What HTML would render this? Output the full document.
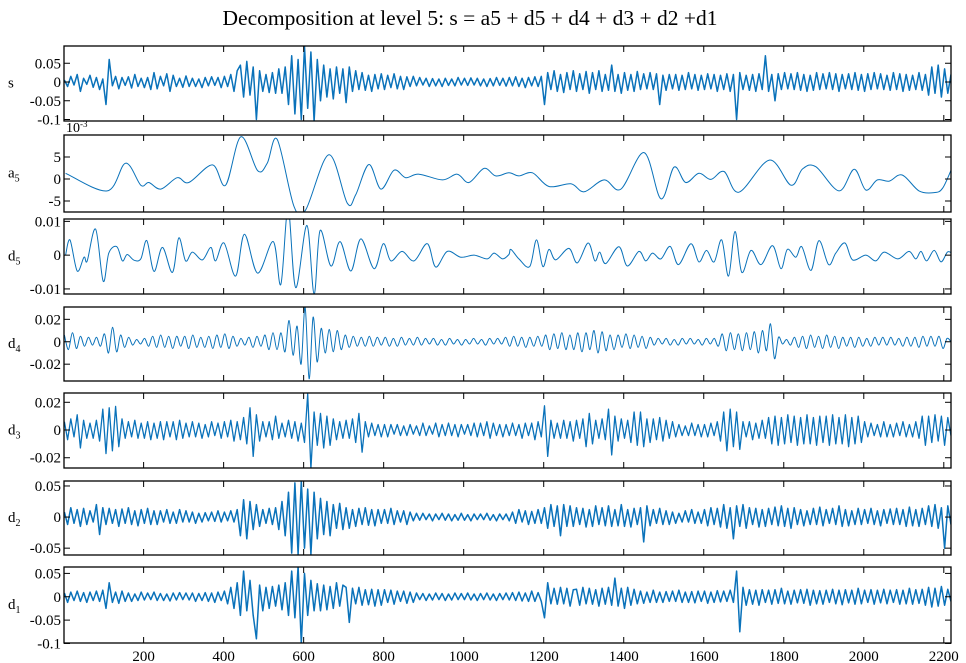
<!DOCTYPE html>
<html><head><meta charset="utf-8">
<style>
html,body{margin:0;padding:0;background:#fff;}
svg{display:block;font-family:"Liberation Serif",serif;}
</style></head>
<body>
<svg id="chart" width="966" height="663" viewBox="0 0 966 663">
<text x="470" y="25" text-anchor="middle" font-size="21.5">Decomposition at level 5: s = a5 + d5 + d4 + d3 + d2 +d1</text>
</svg>
<script>
// ---- data ----
const xTicks=[200,400,600,800,1000,1200,1400,1600,1800,2000,2200];
const a5X=[5,109,155,193,213,243,284,313,372,405,443,485,509,534,576,605,663,709,730,763,793,826,855,888,947,984,1013,1051,1080,1113,1138,1172,1213,1268,1301,1351,1393,1451,1493,1526,1555,1588,1618,1651,1688,1764,1818,1847,1880,1938,1976,2005,2034,2063,2096,2138,2176,2197,2220];
const a5Y=[1.3,-2.7,3.6,-1.4,-0.8,-2.3,0.3,-0.8,3.2,-1.4,9.6,1.9,3.6,9.0,-6.3,-7.0,5.5,-5.5,-3.6,3.3,-2.3,2.0,0.3,1.1,-0.2,1.1,-0.8,2.4,0.7,1.4,0.7,1.4,-1.7,-1.1,-2.9,-0.2,-2.3,6.0,-4.5,2.7,-0.8,1.3,-0.1,1.7,-3.0,4.3,-1.4,2.3,2.8,-2.7,2.2,-2.5,-0.2,-0.5,0.9,-2.7,-3.1,-2.1,2.4];
const d5X=[5,16,34,51,59,80,99,113,133,147,159,176,193,208,226,247,272,288,305,322,347,368,380,401,430,452,485,524,543,561,580,608,626,641,668,691,718,743,776,799,818,846,876,909,930,959,993,1026,1059,1076,1097,1113,1118,1138,1165,1182,1198,1213,1230,1263,1284,1311,1328,1340,1355,1388,1409,1438,1455,1472,1493,1516,1537,1568,1588,1607,1626,1645,1662,1678,1695,1718,1743,1772,1793,1809,1830,1845,1868,1888,1912,1930,1953,1972,2005,2030,2051,2085,2113,2130,2143,2157,2176,2193,2209,2220];
const d5Y=[0,4.5,-4.7,-0.6,-1.7,7.7,-7.7,0.6,2.5,-1.7,0.2,-1.5,-1.1,4.3,-4.8,2.3,-5.1,5.1,-1.7,0.9,-1.4,2.3,-1.7,3.6,-6.2,6.2,-5.3,4.0,-8.7,13.8,-9.6,8.8,-11.5,7.3,-3.2,4.0,-4.7,4.8,-4.0,3.4,-1.7,1.1,-1.7,3.4,-3.5,1.1,-0.6,0,-1.1,0.6,-1.1,0.2,1.7,-1.1,-3.4,4.5,-3.4,1.7,-1.4,2.0,-2.3,3.6,-1.7,0.9,-2.5,2.5,-3.2,1.1,-1.7,0.6,-1.1,2.6,-2.8,3.4,-2.0,1.4,-2.0,4.5,-6.2,7.0,-5.1,1.4,-2.8,2.8,-4.0,1.7,-0.6,2.5,-4.5,4.3,-2.8,0.6,3.6,-1.4,0,-1.7,0.9,-1.1,1.1,-1.1,1.1,-1.7,1.4,-2.0,0.9,0.6];
const d4Y=[6,-7,8,-6,5,-4,4,-3,4,-4,
7,-10,13,-9,6,-5,4,-3,2,-2,
3,-4,5,-5,6,-5,5,-6,5,-4,
5,-6,6,-5,4,-5,5,-6,6,-5,
7,-6,5,-4,3,-3,4,-5,5,-4,
6,-7,8,-7,8,-9,19,-12,14,-20,
31,-33,22,-18,12,-10,11,-9,10,-7,
6,-5,5,-4,4,-4,5,-4,4,-3,
4,-4,3,-4,4,-3,3,-3,4,-3,
3,-2,3,-3,2,-3,3,-2,2,-3,
2,-2,3,-2,2,-3,3,-2,3,-2,
4,-4,5,-4,4,-5,4,-4,5,-4,
6,-7,7,-6,8,-7,6,-7,8,-9,
8,-7,10,-10,9,-8,6,-7,6,-5,
7,-6,6,-5,5,-6,4,-3,3,-2,
3,-3,2,-3,3,-2,3,-2,2,-3,
3,-2,3,-4,7,-8,8,-7,7,-8,
8,-7,9,-10,10,-8,16,-15,4,-2,
2,-3,4,-5,5,-6,6,-5,5,-6,
6,-5,5,-6,4,-4,4,-5,4,-4,
3,-4,4,-3,4,-3,4,-3,3,-4,
4,-4,4,-5,5,-4,5,-4,5,-6,3,0];
const d3Y=[60,-70,80,-50,110,-130,70,-60,50,-60,
70,-80,150,-170,160,-150,170,-120,80,-60,
60,-50,70,-60,50,-60,60,-70,50,-60,
60,-70,60,-50,60,-70,70,-60,50,-50,
60,-50,50,-60,40,-50,60,-40,50,-60,
60,-50,70,-80,60,-70,90,-100,160,-190,
110,-80,60,-50,60,-70,100,-60,50,-50,
70,-60,60,-80,50,-90,260,-280,130,-110,
120,-130,100,-110,80,-70,60,-60,70,-60,
80,-90,120,-160,60,-50,50,-40,40,-50,
40,-50,40,-30,40,-40,30,-40,40,-30,
30,-40,50,-40,30,-30,50,-50,40,-40,
50,-40,40,-50,40,-30,40,-40,50,-50,
50,-40,60,-60,50,-40,40,-50,40,-40,
50,-40,40,-60,50,-40,50,-70,60,-50,
175,-190,70,-60,50,-60,70,-60,60,-80,
70,-60,80,-120,120,-100,70,-60,80,-70,
150,-180,100,-80,80,-60,70,-90,130,-110,
130,-120,80,-90,80,-70,90,-80,70,-60,
60,-50,40,-40,30,-40,50,-40,40,-50,
40,-50,50,-40,60,-80,130,-150,150,-120,
130,-140,60,-50,60,-70,50,-60,70,-60,
90,-100,100,-110,90,-100,110,-90,100,-110,
90,-100,110,-100,90,-110,100,-90,100,-110,
110,-100,90,-100,110,-120,90,-100,100,-90,
60,-50,50,-40,40,-50,60,-50,40,-50,
50,-40,60,-50,40,-50,60,-60,100,-110,
100,-90,110,-80,100,-110,90,-40];
const sY=[5,-12,15,-8,20,-25,10,-6,18,-14,
12,-20,8,-60,60,-10,15,-18,12,-9,
14,-16,20,-12,10,-15,12,-20,25,-18,
15,-10,22,-25,18,-12,10,-14,16,-12,
10,-12,8,-15,12,-10,14,-9,12,-15,
15,-12,20,-25,30,45,-40,55,-35,40,
-100,30,-25,20,-28,25,-30,35,-30,40,
-60,70,-85,60,-100,95,-70,80,-105,60,
-50,45,-40,35,-45,40,-30,35,-55,40,
-25,30,-20,25,-22,18,-25,20,-18,22,
-20,18,-15,22,-18,15,-20,14,-12,15,
-10,12,-8,10,-12,9,-10,8,-12,10,
-9,8,-10,12,-8,10,-9,11,-8,10,
-10,8,-12,9,-10,12,-9,10,-11,12,
-10,14,-12,10,-15,12,-10,14,-12,15,
-60,25,-20,30,-25,20,-28,25,-20,30,
-25,22,-20,28,-30,25,-20,30,-25,20,
-22,45,-25,20,-30,25,-22,20,-25,28,
-20,22,-18,25,-20,22,-60,18,-22,20,
-18,20,-22,18,-20,25,-18,20,-22,18,
-20,22,-18,20,-25,18,-20,22,-25,20,
-100,25,-20,18,-22,20,-25,22,-20,70,
-25,20,-50,22,-20,25,-18,22,-20,25,
-22,20,-25,18,-22,25,-20,22,-18,25,
-20,22,-25,20,-18,22,-20,25,-22,20,
-25,22,-20,25,-18,22,-20,18,-22,25,
-20,22,-25,20,-22,18,-20,25,-22,20,
-35,40,-30,45,-40,35,-30,20];
const d2Y=[8,-12,15,-10,12,-15,14,-12,10,-8,
20,-28,15,-12,14,-10,12,-15,13,-10,
15,-12,10,-14,12,-10,14,-12,10,-12,
10,-8,12,-10,8,-10,12,-8,10,-8,
8,-10,6,-8,7,-6,8,-7,10,-8,
8,-6,10,-8,12,-30,28,-35,25,-20,
20,-15,12,-10,14,-12,15,-20,25,-30,
40,-58,55,-60,58,-50,45,-60,40,-35,
30,-28,25,-30,20,-18,22,-20,15,-18,
12,-15,14,-12,15,-13,12,-14,12,-10,
12,-10,14,-12,10,-8,10,-12,8,-6,
6,-5,6,-4,5,-6,5,-4,6,-5,
5,-6,4,-5,6,-5,4,-6,5,-4,
5,-4,6,-5,4,-6,5,-4,5,-6,
8,-10,12,-8,10,-12,9,-10,12,-10,
15,-18,20,-15,18,-30,20,-15,18,-15,
15,-12,14,-16,12,-15,18,-12,15,-14,
18,-15,12,-14,20,-15,12,-16,14,-12,
15,-40,18,-14,12,-10,14,-12,10,-12,
8,-10,6,-8,10,-8,12,-10,8,-10,
12,-14,15,-12,14,-16,20,-18,15,-35,
18,-15,20,-18,15,-12,14,-16,12,-15,
14,-12,16,-14,18,-15,14,-18,15,-12,
12,-14,10,-12,14,-12,16,-14,12,-10,
14,-12,18,-15,12,-14,10,-12,14,-12,
12,-10,14,-12,10,-14,12,-10,13,-12,
14,-12,12,-15,16,-14,12,-15,14,-12,
18,-15,20,-18,15,-50,18,-12];
const d1Y=[8,-12,10,-8,12,-10,9,-12,10,-8,
12,-10,14,-25,30,-12,10,-14,12,-10,
8,-10,6,-8,10,-7,8,-6,10,-8,
7,-8,6,-9,8,-7,9,-6,8,-7,
8,-10,7,-8,9,-10,8,-12,10,-8,
12,-15,20,-25,30,-40,55,-30,35,-40,
-90,25,-30,20,-25,22,-20,25,-28,30,
-40,55,-45,65,-100,50,-40,35,-30,28,
-30,25,-28,22,-25,30,-20,25,20,-55,
18,-15,20,-18,15,-17,16,-20,15,-18,
15,-12,14,-16,12,-10,12,-14,10,-12,
8,-6,7,-8,6,-7,8,-6,7,-8,
6,-7,8,-6,7,-6,8,-7,6,-8,
7,-6,8,-7,6,-8,7,-6,8,-7,
9,-8,10,-9,8,-10,12,-10,9,-10,
-45,30,-15,18,-16,20,-15,18,-20,15,
16,-18,20,-15,18,-16,15,-20,18,-16,
20,-18,40,-20,18,-25,20,-18,16,-15,
12,-14,10,-12,14,-12,10,-12,11,-10,
12,-10,14,-12,10,-12,11,-13,12,-10,
12,-14,10,-12,13,-11,12,-10,14,-12,
55,-75,20,-18,15,-16,14,-18,15,-12,
14,-16,15,-14,18,-15,12,-16,14,-13,
15,-14,16,-18,14,-15,13,-16,14,-12,
16,-15,14,-17,15,-13,14,-16,18,-15,
14,-12,15,-16,14,-13,16,-15,14,-12,
15,-16,14,-15,18,-16,15,-14,16,-18,
20,-22,18,-20,22,-18,16,-10];

// ---- layout ----
const X0=1, X1=2218, PX0=64, PX1=951;
const sx=u=>PX0+(u-X0)/(X1-X0)*(PX1-PX0);
const NS='http://www.w3.org/2000/svg';
const svg=document.getElementById('chart');
function mk(tag,attrs,parent){const e=document.createElementNS(NS,tag);for(const k in attrs)e.setAttribute(k,attrs[k]);(parent||svg).appendChild(e);return e;}
const panels=[
 {key:'s',label:'s',sub:'',top:46,bot:121,lo:-104,hi:96,ticks:[50,0,-50,-100],tl:['0.05','0','-0.05','-0.1']},
 {key:'a5',label:'a',sub:'5',top:135,bot:212,lo:-7.5,hi:10,ticks:[5,0,-5],tl:['5','0','-5']},
 {key:'d5',label:'d',sub:'5',top:219,bot:294,lo:-11.5,hi:10.7,ticks:[10,0,-10],tl:['0.01','0','-0.01']},
 {key:'d4',label:'d',sub:'4',top:307,bot:381,lo:-35,hi:31,ticks:[20,0,-20],tl:['0.02','0','-0.02']},
 {key:'d3',label:'d',sub:'3',top:393,bot:468,lo:-274,hi:267,ticks:[200,0,-200],tl:['0.02','0','-0.02']},
 {key:'d2',label:'d',sub:'2',top:481,bot:555,lo:-61,hi:58,ticks:[50,0,-50],tl:['0.05','0','-0.05']},
 {key:'d1',label:'d',sub:'1',top:567,bot:643,lo:-99,hi:63.7,ticks:[50,0,-50,-100],tl:['0.05','0','-0.05','-0.1']}
];
function smoothPath(pts){
 let d='M'+pts[0][0].toFixed(1)+','+pts[0][1].toFixed(1);
 for(let i=0;i<pts.length-1;i++){
  const p0=pts[Math.max(0,i-1)],p1=pts[i],p2=pts[i+1],p3=pts[Math.min(pts.length-1,i+2)];
  const c1x=p1[0]+(p2[0]-p0[0])/6,c1y=p1[1]+(p2[1]-p0[1])/6;
  const c2x=p2[0]-(p3[0]-p1[0])/6,c2y=p2[1]-(p3[1]-p1[1])/6;
  d+=' C'+c1x.toFixed(1)+','+c1y.toFixed(1)+' '+c2x.toFixed(1)+','+c2y.toFixed(1)+' '+p2[0].toFixed(1)+','+p2[1].toFixed(1);
 }
 return d;
}
function evenX(arr){const n=arr.length;return arr.map((v,i)=>X0+1+i*(X1-X0-1)/(n-1));}
const series={
 s:{x:evenX(sY),y:sY,smooth:false,w:1.5},
 a5:{x:a5X,y:a5Y,smooth:true,w:1},
 d5:{x:d5X,y:d5Y,smooth:true,w:1},
 d4:{x:evenX(d4Y),y:d4Y,smooth:true,w:1},
 d3:{x:evenX(d3Y),y:d3Y,smooth:false,w:1.3},
 d2:{x:evenX(d2Y),y:d2Y,smooth:false,w:1.5},
 d1:{x:evenX(d1Y),y:d1Y,smooth:false,w:1.5}
};
const defs=mk('defs',{});
panels.forEach((p,pi)=>{
 const sy=v=>p.bot-(v-p.lo)/(p.hi-p.lo)*(p.bot-p.top);
 const g=mk('g',{});
 
 
 const cp=mk('clipPath',{id:'clip'+pi},defs);
 mk('rect',{x:PX0,y:p.top,width:PX1-PX0,height:p.bot-p.top},cp);
 const s=series[p.key];
 const pts=s.x.map((u,i)=>[sx(u),sy(s.y[i])]);
 const d=s.smooth?smoothPath(pts):'M'+pts.map(q=>q[0].toFixed(1)+','+q[1].toFixed(1)).join(' L');
 const path=mk('path',{d:d,fill:'none',stroke:'#0a72ba','stroke-width':s.w,'stroke-linejoin':'round','clip-path':'url(#clip'+pi+')'},g);
 
 
 const box=mk('rect',{x:PX0,y:p.top,width:PX1-PX0,height:p.bot-p.top,fill:'none',stroke:'#000','stroke-width':1.3},g);
 
 
 xTicks.forEach(t=>{
  const x=sx(t);
  mk('line',{x1:x,x2:x,y1:p.top,y2:p.top+6,stroke:'#000','stroke-width':1},g);
  mk('line',{x1:x,x2:x,y1:p.bot,y2:p.bot-6,stroke:'#000','stroke-width':1},g);
  if(pi===panels.length-1){
   const tx=mk('text',{x:x,y:661,'text-anchor':'middle','font-size':15},g);
   tx.textContent=String(t);
   
   
  }
 });
 p.ticks.forEach((t,ti)=>{
  const y=sy(t);
  mk('line',{x1:PX0,x2:PX0+6,y1:y,y2:y,stroke:'#000','stroke-width':1},g);
  mk('line',{x1:PX1,x2:PX1-6,y1:y,y2:y,stroke:'#000','stroke-width':1},g);
  const tx=mk('text',{x:PX0-3,y:y+5,'text-anchor':'end','font-size':15},g);
  tx.textContent=p.tl[ti];
  
  
 });
 const ly=(p.top+p.bot)/2+4;
 const lab=mk('text',{x:8,y:ly,'font-size':15},g);
 
 
 lab.textContent=p.label;
 if(p.sub){const ts=mk('tspan',{'font-size':10,dy:4},lab);ts.textContent=p.sub;}
});
const ex=mk('text',{x:66,y:132,'font-size':14});


ex.textContent='10';
const exs=mk('tspan',{'font-size':9,dy:-5},ex);exs.textContent='-3';
</script>
</body></html>
